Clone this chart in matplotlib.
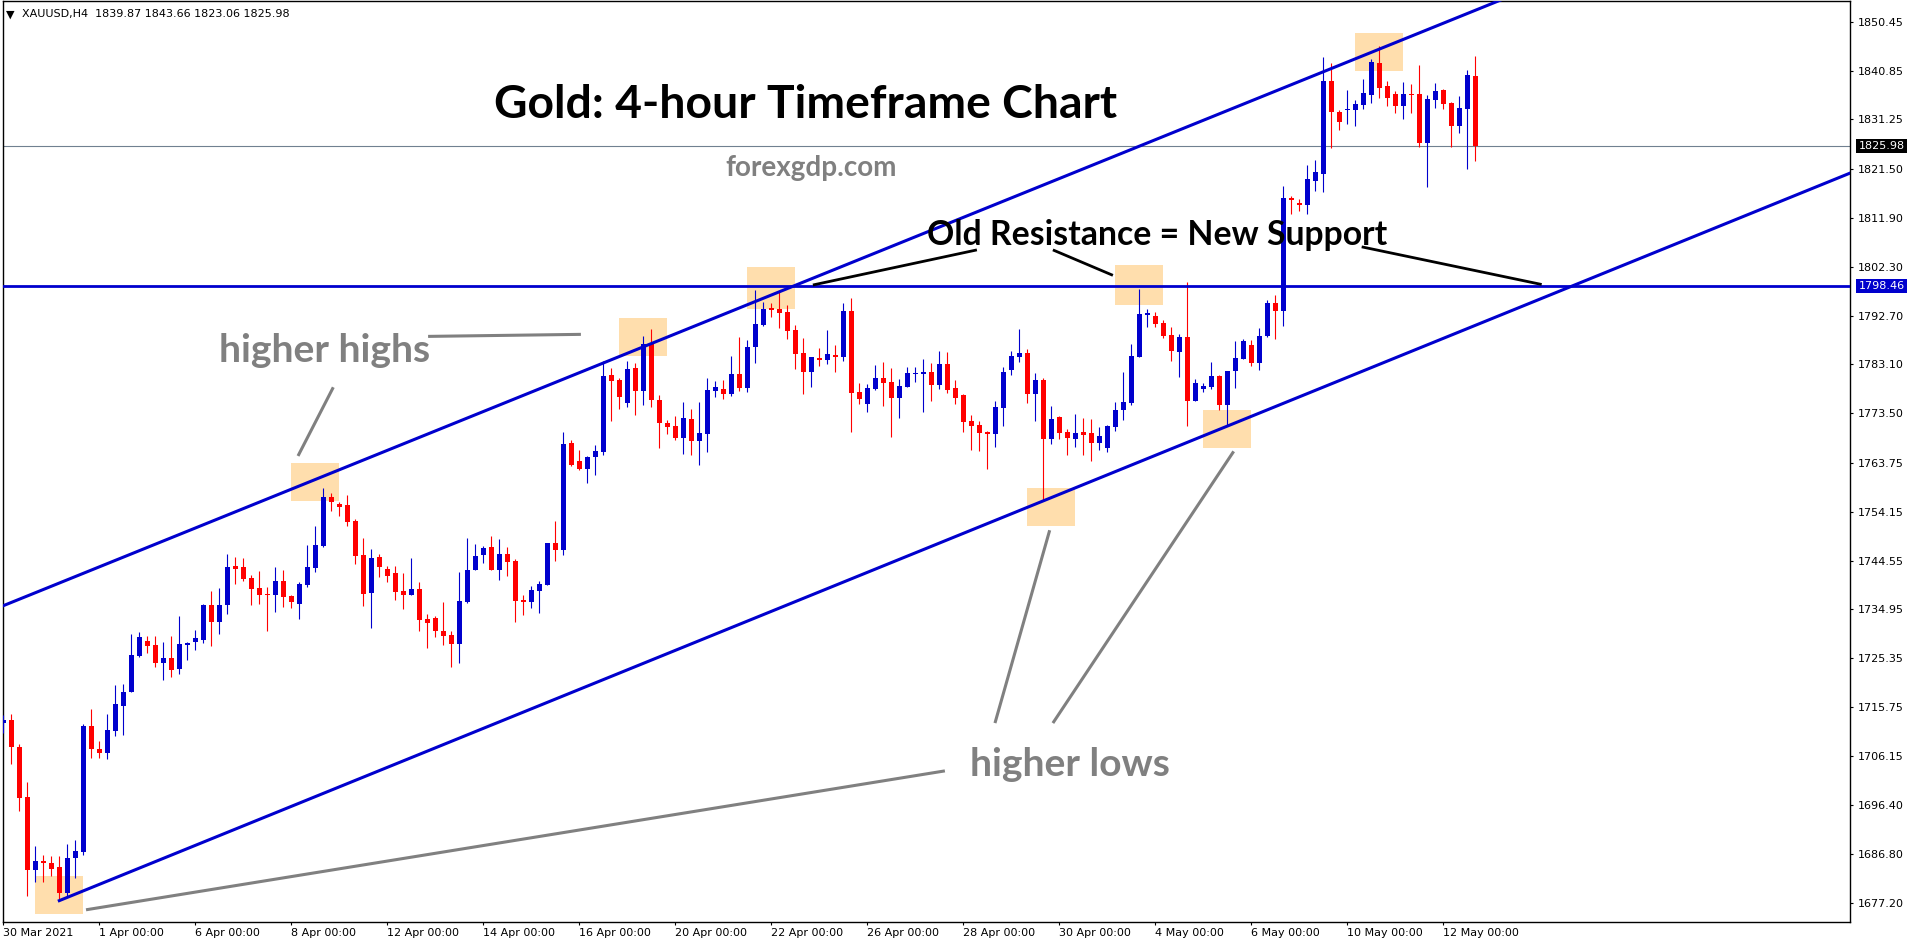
import numpy as np
import matplotlib.pyplot as plt
from matplotlib.patches import Rectangle

# XAUUSD H4 candles, 30 Mar 2021 00:00 onwards (one entry per 4h bar)
opens = [1712.7, 1713.2, 1707.9, 1698.1, 1683.8, 1685.5, 1685.0, 1684.4, 1679.2, 1686.0,
         1687.2, 1712.1, 1707.5, 1706.7, 1711.0, 1716.0, 1718.7, 1725.8, 1728.7, 1727.9,
         1724.4, 1725.4, 1723.2, 1728.0, 1728.5, 1728.9, 1735.8, 1732.5, 1735.8, 1743.5,
         1743.3, 1741.1, 1739.1, 1737.98, 1737.8, 1740.5, 1737.6, 1736.1, 1739.8, 1743.1,
         1747.4, 1757.0, 1755.7, 1755.5, 1752.3, 1745.6, 1738.2, 1745.2, 1742.9, 1742.1,
         1738.6, 1737.8, 1738.9, 1733.0, 1733.2, 1730.7, 1729.9, 1728.2, 1736.3, 1742.6,
         1745.6, 1747.2, 1742.7, 1745.8, 1744.5, 1736.7, 1736.3, 1738.6, 1739.8, 1748.0,
         1746.7, 1767.6, 1764.1, 1762.6, 1764.8, 1765.9, 1781.0, 1780.0, 1775.6, 1782.4,
         1777.9, 1787.1, 1776.1, 1771.6, 1771.0, 1768.7, 1772.4, 1768.1, 1769.5, 1777.9,
         1778.2, 1777.3, 1781.2, 1778.5, 1786.5, 1790.8, 1794.2, 1794.0, 1793.4, 1789.9,
         1785.3, 1781.6, 1784.4, 1784.0, 1784.9, 1784.6, 1793.6, 1777.7, 1775.3, 1778.3,
         1780.4, 1779.6, 1776.5, 1778.7, 1781.2, 1781.2, 1781.6, 1779.1, 1783.2, 1778.5,
         1777.1, 1772.0, 1771.2, 1769.8, 1769.5, 1774.6, 1781.9, 1784.5, 1785.3, 1777.3,
         1780.0, 1768.5, 1772.8, 1769.9, 1768.5, 1769.9, 1769.6, 1767.7, 1766.7, 1770.7,
         1774.1, 1775.5, 1784.6, 1792.9, 1792.6, 1791.2, 1788.9, 1785.6, 1788.5, 1775.9,
         1778.3, 1778.7, 1780.8, 1775.2, 1781.7, 1784.2, 1786.9, 1783.4, 1788.7, 1795.2,
         1793.6, 1815.8, 1814.8, 1814.5, 1819.2, 1820.6, 1838.8, 1832.8, 1833.0, 1833.1,
         1834.1, 1836.0, 1842.3, 1837.8, 1836.2, 1833.9, 1836.2, 1836.2, 1826.6, 1835.1,
         1837.0, 1834.5, 1830.0, 1833.3, 1839.87]
highs = [1714.2, 1714.4, 1708.5, 1701.0, 1688.5, 1686.7, 1686.5, 1686.5, 1688.9, 1689.7,
         1712.4, 1715.4, 1709.1, 1714.3, 1720.0, 1720.3, 1730.1, 1730.5, 1729.8, 1729.8,
         1728.5, 1729.7, 1733.6, 1728.5, 1730.9, 1736.0, 1738.6, 1739.1, 1745.8, 1745.3,
         1745.0, 1741.7, 1742.5, 1739.3, 1743.3, 1742.7, 1737.8, 1740.3, 1747.6, 1751.3,
         1758.8, 1757.8, 1756.1, 1757.4, 1752.7, 1749.0, 1746.8, 1745.8, 1743.5, 1743.5,
         1742.1, 1745.0, 1740.3, 1734.0, 1733.6, 1736.4, 1730.7, 1742.3, 1749.0, 1747.8,
         1747.4, 1749.4, 1748.8, 1747.2, 1744.8, 1737.8, 1739.5, 1740.5, 1748.0, 1752.3,
         1769.8, 1768.2, 1766.3, 1765.1, 1767.2, 1783.8, 1782.4, 1780.4, 1783.8, 1783.4,
         1788.7, 1790.1, 1777.1, 1772.2, 1772.9, 1775.7, 1774.3, 1775.7, 1780.4, 1779.8,
         1780.0, 1784.7, 1788.5, 1787.9, 1797.7, 1795.4, 1795.2, 1797.3, 1794.8, 1790.8,
         1788.3, 1784.5, 1786.3, 1789.9, 1786.9, 1795.2, 1796.1, 1779.4, 1779.2, 1783.0,
         1783.6, 1782.4, 1780.2, 1782.6, 1782.6, 1784.2, 1783.4, 1785.7, 1785.5, 1780.0,
         1777.3, 1773.2, 1772.0, 1770.0, 1775.9, 1782.6, 1785.7, 1790.1, 1786.1, 1781.4,
         1780.4, 1774.9, 1772.9, 1770.3, 1773.4, 1772.6, 1772.4, 1770.8, 1771.1, 1775.7,
         1781.6, 1787.1, 1797.9, 1794.0, 1793.4, 1791.8, 1790.4, 1789.1, 1799.3, 1780.2,
         1779.4, 1783.6, 1781.0, 1781.8, 1787.7, 1788.1, 1787.9, 1790.2, 1795.75, 1796.7,
         1818.2, 1816.2, 1815.6, 1822.3, 1823.3, 1843.5, 1842.3, 1833.1, 1837.0, 1835.1,
         1839.2, 1843.1, 1845.7, 1838.8, 1836.8, 1838.6, 1838.2, 1841.9, 1836.0, 1838.4,
         1837.2, 1834.7, 1835.8, 1841.0, 1843.66]
lows = [1710.6, 1704.6, 1695.4, 1678.7, 1681.4, 1681.4, 1682.5, 1677.7, 1678.6, 1682.2,
        1686.7, 1705.7, 1705.7, 1705.5, 1710.0, 1710.3, 1718.7, 1725.6, 1726.4, 1723.6,
        1721.1, 1721.7, 1722.3, 1725.0, 1727.0, 1728.3, 1727.7, 1730.1, 1734.0, 1739.9,
        1740.5, 1735.9, 1736.1, 1730.6, 1734.5, 1735.5, 1735.3, 1733.1, 1739.4, 1742.2,
        1747.2, 1754.2, 1753.2, 1751.3, 1743.9, 1735.7, 1731.2, 1741.4, 1740.4, 1736.7,
        1735.1, 1737.8, 1730.6, 1727.4, 1729.6, 1728.0, 1723.7, 1724.5, 1736.2, 1742.6,
        1744.1, 1742.7, 1740.8, 1741.6, 1732.5, 1733.9, 1735.3, 1734.3, 1739.8, 1744.5,
        1745.7, 1763.2, 1762.4, 1759.7, 1761.4, 1765.3, 1772.0, 1774.4, 1774.8, 1773.2,
        1775.2, 1774.8, 1766.7, 1769.5, 1768.3, 1765.5, 1765.3, 1763.4, 1765.9, 1776.7,
        1776.2, 1776.9, 1777.9, 1777.7, 1783.3, 1790.6, 1792.4, 1790.3, 1788.1, 1782.2,
        1777.3, 1778.6, 1782.8, 1783.2, 1781.6, 1783.8, 1769.8, 1775.3, 1773.7, 1778.1,
        1774.9, 1768.9, 1772.6, 1778.7, 1779.6, 1773.8, 1775.9, 1778.3, 1777.5, 1775.3,
        1769.8, 1766.3, 1766.1, 1762.5, 1766.9, 1771.0, 1781.1, 1783.6, 1775.6, 1772.0,
        1756.4, 1767.5, 1768.5, 1765.3, 1766.9, 1765.3, 1764.2, 1766.3, 1765.9, 1770.1,
        1772.2, 1775.2, 1784.6, 1790.5, 1790.5, 1788.3, 1783.8, 1780.7, 1770.9, 1775.9,
        1777.7, 1778.3, 1774.2, 1770.9, 1778.5, 1784.1, 1782.8, 1781.9, 1788.5, 1788.1,
        1790.7, 1812.7, 1813.3, 1812.7, 1817.2, 1817.0, 1825.7, 1829.2, 1830.4, 1830.0,
        1833.3, 1834.5, 1835.5, 1833.9, 1832.5, 1831.3, 1832.5, 1825.8, 1818.0, 1833.5,
        1833.3, 1825.9, 1828.6, 1821.5, 1823.06]
closes = [1713.2, 1707.8, 1697.9, 1683.8, 1685.5, 1685.0, 1683.9, 1679.2, 1686.1, 1687.4,
          1712.1, 1707.5, 1706.7, 1711.2, 1716.3, 1718.7, 1726.0, 1729.5, 1727.7, 1724.4,
          1725.4, 1723.0, 1728.1, 1728.3, 1729.3, 1735.8, 1732.5, 1735.8, 1743.3, 1742.9,
          1740.9, 1739.0, 1737.8, 1737.85, 1740.5, 1737.4, 1736.3, 1739.9, 1743.3, 1747.6,
          1757.0, 1756.1, 1755.1, 1752.1, 1745.4, 1738.0, 1745.0, 1743.3, 1741.6, 1738.4,
          1737.8, 1738.9, 1732.9, 1732.3, 1730.6, 1729.8, 1728.2, 1736.6, 1742.7, 1745.4,
          1747.0, 1742.7, 1745.8, 1744.3, 1736.5, 1736.3, 1738.8, 1739.9, 1748.0, 1746.7,
          1767.5, 1763.4, 1762.6, 1764.9, 1766.1, 1780.8, 1779.9, 1776.6, 1782.2, 1777.9,
          1787.1, 1776.0, 1771.5, 1770.7, 1768.7, 1772.6, 1768.1, 1769.6, 1778.1, 1778.6,
          1777.3, 1781.2, 1778.5, 1786.5, 1791.0, 1794.0, 1793.8, 1793.2, 1789.7, 1785.1,
          1781.6, 1784.5, 1784.0, 1785.1, 1784.6, 1793.6, 1777.5, 1776.3, 1778.5, 1780.4,
          1779.4, 1776.5, 1778.9, 1781.4, 1781.4, 1781.6, 1779.1, 1783.2, 1778.1, 1776.5,
          1771.8, 1771.0, 1769.6, 1769.5, 1774.7, 1781.6, 1784.7, 1785.3, 1777.3, 1780.0,
          1768.5, 1772.4, 1769.7, 1768.7, 1769.7, 1769.3, 1767.7, 1769.1, 1770.9, 1774.1,
          1775.7, 1784.7, 1793.0, 1793.2, 1791.1, 1788.7, 1785.8, 1788.5, 1775.9, 1779.4,
          1778.8, 1780.8, 1775.2, 1781.8, 1784.3, 1787.7, 1783.4, 1788.7, 1795.2, 1793.6,
          1815.8, 1815.4, 1814.5, 1819.5, 1820.9, 1838.8, 1832.8, 1830.8, 1833.3, 1834.3,
          1836.4, 1842.5, 1837.4, 1835.5, 1833.9, 1836.2, 1836.0, 1826.6, 1835.3, 1836.8,
          1834.3, 1830.0, 1833.5, 1840.0, 1825.98]

date_labels = ['30 Mar 2021', '1 Apr 00:00', '6 Apr 00:00', '8 Apr 00:00', '12 Apr 00:00',
               '14 Apr 00:00', '16 Apr 00:00', '20 Apr 00:00', '22 Apr 00:00', '26 Apr 00:00',
               '28 Apr 00:00', '30 Apr 00:00', '4 May 00:00', '6 May 00:00', '10 May 00:00',
               '12 May 00:00']
price_ticks = [1850.45, 1840.85, 1831.25, 1821.50, 1811.90, 1802.30, 1792.70, 1783.10,
               1773.50, 1763.75, 1754.15, 1744.55, 1734.95, 1725.35, 1715.75, 1706.15,
               1696.40, 1686.80, 1677.20]
support_level = 1798.46
last_price = 1825.98

BLUE = '#0000CD'
RED = '#FF0000'
GRAY = '#808080'
PEACH = '#FFDEAD'

W, H = 1916, 946
fig = plt.figure(figsize=(W / 100, H / 100), dpi=100, facecolor='white')
ax = fig.add_axes([2.7 / W, 24 / H, (1850 - 2.7) / W, 921 / H])
ax.set_xlim(-0.075, 230.84)
ax.set_ylim(1673.5, 1854.52)

o = np.array(opens); h = np.array(highs); l = np.array(lows); c = np.array(closes)
x = np.arange(len(o))
col = np.where(c >= o, BLUE, RED)

# highlight boxes (candle index span, price span)
boxes = [(3.95, 9.95, 1675.1, 1682.5), (35.95, 41.95, 1756.25, 1763.7),
         (77.0, 82.95, 1784.8, 1792.2), (92.95, 98.95, 1794.0, 1802.2),
         (127.95, 133.95, 1751.4, 1758.85), (138.95, 144.95, 1794.8, 1802.6),
         (149.95, 155.95, 1766.7, 1774.1), (168.95, 174.95, 1840.8, 1848.2)]
for x0, x1, y0, y1 in boxes:
    ax.add_patch(Rectangle((x0, y0), x1 - x0, y1 - y0, facecolor=PEACH,
                           edgecolor='none', zorder=1))

# candles
ax.vlines(x, l, h, colors=col, linewidth=0.8, zorder=3)
ax.bar(x, np.maximum(np.abs(c - o), 0.2), bottom=np.minimum(o, c), width=0.6,
       color=col, linewidth=0, zorder=3)

# levels
ax.axhline(last_price, color='#708090', linewidth=0.8, zorder=2)
ax.axhline(support_level, color=BLUE, linewidth=2.0, zorder=4)

# channel
ax.plot([-1, 240], [1735.67 - 0.636, 1735.67 + 0.636 * 240], color=BLUE, lw=2.2, zorder=4)
ax.plot([7, 240], [1677.7, 1677.7 + 0.6388 * 233], color=BLUE, lw=2.2, zorder=4)

# pointer lines
gray_lines = [((53.1, 72.2), (1788.6, 1789.0)), ((36.84, 41.25), (1765.1, 1778.6)),
              ((10.34, 117.7), (1675.9, 1703.2)), ((123.96, 130.8), (1712.6, 1750.5)),
              ((131.2, 153.8), (1712.6, 1766.0))]
for xs, ys in gray_lines:
    ax.plot(xs, ys, color=GRAY, lw=2.2, solid_capstyle='butt', zorder=4)
black_lines = [((101.2, 121.7), (1798.7, 1805.6)), ((131.2, 138.7), (1805.6, 1800.6)),
               ((169.8, 192.3), (1806.2, 1798.8))]
for xs, ys in black_lines:
    ax.plot(xs, ys, color='black', lw=2.0, solid_capstyle='butt', zorder=4)

renderer = fig.canvas.get_renderer()


def label(xc, yb, s, color, target_w, family='Lato'):
    t = ax.text(xc, yb, s, color=color, fontsize=20, fontweight='bold', family=family,
                ha='center', va='baseline', zorder=6)
    w = t.get_window_extent(renderer).width
    t.set_fontsize(20 * target_w / w)
    return t


label(100.3, 1831.46, 'Gold: 4-hour Timeframe Chart', 'black', 622)
label(101.0, 1820.13, 'forexgdp.com', GRAY, 172)
label(144.2, 1806.56, 'Old Resistance = New Support', 'black', 461)
label(40.2, 1783.57, 'higher highs', GRAY, 211)
label(133.3, 1702.2, 'higher lows', GRAY, 200)

# axes styling
for s in ax.spines.values():
    s.set_color('black')
    s.set_linewidth(1.0)
ax.yaxis.tick_right()
ax.set_yticks(price_ticks)
ax.set_yticklabels([f'{p:.2f}' for p in price_ticks])
ax.tick_params(axis='y', direction='out', length=2.5, pad=3, labelsize=8, width=0.8)
ax.set_xticks(np.arange(len(date_labels)) * 12)
ax.set_xticklabels(date_labels, ha='left')
ax.tick_params(axis='x', direction='out', length=2.5, pad=2, labelsize=8, width=0.8)

for val, fc in [(last_price, 'black'), (support_level, BLUE)]:
    ax.annotate(f'{val:.2f}', xy=(1, val), xycoords=('axes fraction', 'data'),
                xytext=(6, 0), textcoords='offset points', va='center', ha='left',
                fontsize=8, color='white', annotation_clip=False,
                bbox=dict(boxstyle='square,pad=0.2', fc=fc, ec='none'))

fig.text(6 / W, 1 - 14.5 / H, '\u25bc', fontsize=8, va='center', ha='left')
fig.text(21.7 / W, 1 - 14.5 / H, 'XAUUSD,H4  1839.87 1843.66 1823.06 1825.98',
         fontsize=8, va='center', ha='left')

fig.savefig('out.png', dpi=100, facecolor='white')
